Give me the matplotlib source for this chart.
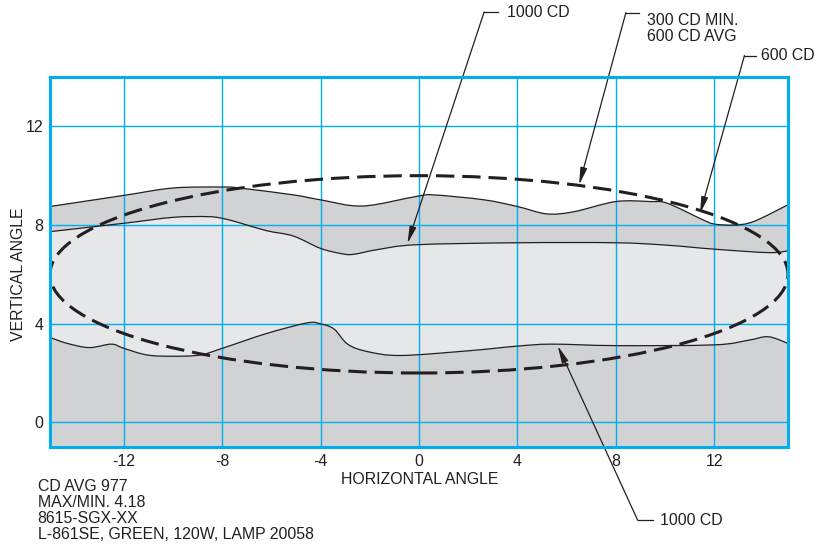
import numpy as np
import matplotlib
matplotlib.use("Agg")
import matplotlib.pyplot as plt
from matplotlib.patches import Ellipse, PathPatch
from matplotlib.path import Path

plt.rcParams["font.family"] = ["Liberation Sans", "DejaVu Sans"]
plt.rcParams["font.size"] = 11.4
plt.rcParams["axes.unicode_minus"] = False

# 600 CD contour, upper edge
outer_x = [-15, -12, -10, -8, -7.3, -5.1, -4, -2.3, -0.1, 0.6, 2.65, 4, 5.2, 6.3, 8, 9.4, 10.1, 11.5, 12, 12.8, 13.6, 15]
outer_y = [8.75, 9.2, 9.5, 9.54, 9.5, 9.22, 9.02, 8.77, 9.16, 9.22, 9.02, 8.75, 8.45, 8.54, 8.95, 8.95, 8.88, 8.23, 8.04, 8.0, 8.14, 8.82]

# 1000 CD contour, upper edge
upper_x = [-15, -12, -10, -8.6, -8, -7.3, -6.2, -5.1, -4, -3.05, -2.6, -1.7, -0.1, 4, 8, 10.1, 12, 14.2, 15]
upper_y = [7.73, 8.07, 8.31, 8.34, 8.27, 8.09, 7.77, 7.55, 7.05, 6.82, 6.82, 7.0, 7.2, 7.28, 7.28, 7.18, 7.02, 6.88, 6.95]

# 1000 CD contour, lower edge
lower_x = [-15, -14.3, -13.4, -12.5, -12, -11.05, -10, -8.9, -8, -6.2, -4.55, -4, -3.45, -2.9, -2.1, -0.75, 2, 4, 5.4, 8, 12, 13.4, 14.2, 15]
lower_y = [3.44, 3.2, 3.03, 3.17, 3.0, 2.73, 2.68, 2.73, 3.0, 3.6, 4.03, 3.99, 3.78, 3.17, 2.87, 2.71, 2.9, 3.09, 3.17, 3.11, 3.14, 3.33, 3.47, 3.2]

# 300 CD min / 600 CD avg boundary (ellipse)
ell_center = (0, 6)
ell_width = 30
ell_height = 8

x_ticks = [-12, -8, -4, 0, 4, 8, 12]
y_ticks = [0, 4, 8, 12]

notes = ["CD AVG 977", "MAX/MIN. 4.18", "8615-SGX-XX", "L-861SE, GREEN, 120W, LAMP 20058"]

blue = "#00aeef"
dark = "#d1d2d4"
light = "#e6e7e8"
ink = "#231f20"


def smooth(xs, ys):
    # catmull-rom -> cubic bezier vertices/codes through the read points
    p = np.column_stack([xs, ys]).astype(float)
    n = len(p)
    verts = [p[0]]
    codes = [Path.MOVETO]
    for i in range(n - 1):
        p0 = p[max(i - 1, 0)]
        p1 = p[i]
        p2 = p[i + 1]
        p3 = p[min(i + 2, n - 1)]
        verts += [p1 + (p2 - p0) / 6, p2 - (p3 - p1) / 6, p2]
        codes += [Path.CURVE4] * 3
    return verts, codes


fig = plt.figure(figsize=(8.29, 5.47), dpi=100)
ax = fig.add_axes([50 / 829, 1 - 447 / 547, 738 / 829, 370 / 547])
ax.set_xlim(-15, 15)
ax.set_ylim(-1, 14)

v, c = smooth(outer_x, outer_y)
v = v + [(outer_x[-1], -1), (outer_x[0], -1), (0, 0)]
c = c + [Path.LINETO, Path.LINETO, Path.CLOSEPOLY]
ax.add_patch(PathPatch(Path(v, c), fc=dark, lw=0, zorder=1))

vu, cu = smooth(upper_x, upper_y)
vl, cl = smooth(lower_x[::-1], lower_y[::-1])
v = vu + vl + [(0, 0)]
c = cu + [Path.LINETO] + cl[1:] + [Path.CLOSEPOLY]
ax.add_patch(PathPatch(Path(v, c), fc=light, lw=0, zorder=1.1))

ax.set_xticks(x_ticks)
ax.set_yticks(y_ticks)
ax.grid(True, color=blue, lw=1.0)
ax.set_axisbelow(False)
ax.tick_params(length=0, pad=5, labelcolor=ink)
for s in ax.spines.values():
    s.set_color(blue)
    s.set_linewidth(2.2)
    s.set_zorder(5)

for xs, ys in [(outer_x, outer_y), (upper_x, upper_y), (lower_x, lower_y)]:
    v, c = smooth(xs, ys)
    ax.add_patch(PathPatch(Path(v, c), fill=False, ec=ink, lw=0.9, zorder=3))

ax.add_patch(Ellipse(ell_center, ell_width, ell_height, fill=False, ec=ink,
                     lw=2.2, ls=(0, (6, 2.6)), zorder=4))

# leader lines: (tip, bend, stub end, text pos, label)
leaders = [
    ((-0.47, 7.25), (2.65, 16.64), 3.2, (3.57, 16.62), "1000 CD"),
    ((6.51, 9.63), (8.41, 16.61), 8.94, (9.27, 15.95), "300 CD MIN.\n600 CD AVG"),
    ((11.42, 8.45), (13.23, 14.87), 13.7, (13.9, 14.87), "600 CD"),
    ((5.64, 3.1), (8.89, -3.97), 9.5, (9.8, -3.97), "1000 CD"),
]
for tip, bend, stub, tpos, label in leaders:
    ax.plot([bend[0], stub], [bend[1], bend[1]], color=ink, lw=0.9, clip_on=False)
    ax.annotate("", xy=tip, xytext=bend, annotation_clip=False,
                arrowprops=dict(arrowstyle="-|>,head_length=0.9,head_width=0.18",
                                color=ink, lw=0.9, shrinkA=0, shrinkB=0))
    ax.text(tpos[0], tpos[1], label, ha="left", va="center", color=ink,
            linespacing=1.08, clip_on=False)

fig.text(19 / 829, 1 - 274 / 547, "VERTICAL ANGLE", rotation=90, ha="center", va="center", color=ink)
fig.text(420 / 829, 1 - 480 / 547, "HORIZONTAL ANGLE", ha="center", va="center", color=ink)
fig.text(37.5 / 829, 1 - 479 / 547, "\n".join(notes), ha="left", va="top", color=ink, linespacing=1.08)

fig.savefig("out.png", dpi=100)
